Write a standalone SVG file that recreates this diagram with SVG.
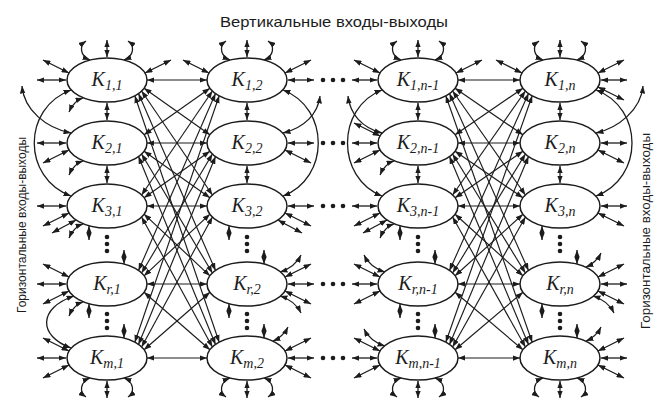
<svg xmlns="http://www.w3.org/2000/svg" width="654" height="400" viewBox="0 0 654 400">
  <defs>
    <marker id="ah" viewBox="0 0 8 6" refX="8" refY="3" markerWidth="7.5" markerHeight="5.6" markerUnits="userSpaceOnUse" orient="auto-start-reverse">
      <path d="M0,0 L8,3 L0,6 Z" fill="#1c1c1c"/>
    </marker>
    <style>
      .a{fill:none;stroke:#1c1c1c;stroke-width:1.3;marker-start:url(#ah);marker-end:url(#ah)}
      .m{fill:none;stroke:#1c1c1c;stroke-width:1.15;marker-start:url(#ah);marker-end:url(#ah)}
      .node ellipse{fill:#fff;stroke:#1c1c1c;stroke-width:1.5}
      .lbl{font-family:"Liberation Serif","Times New Roman",serif;font-style:italic;font-size:20px;fill:#1c1c1c;text-anchor:middle}
      .lbl tspan{font-size:14px}
      .cap{font-family:"Liberation Sans",Arial,sans-serif;fill:#1c1c1c;text-anchor:middle}
      .dot{fill:#1c1c1c}
    </style>
    <!-- port stubs, relative to a node centre (ellipse rx 40, ry 22) -->
    <g id="top">
      <line class="a" x1="0" y1="-23" x2="0" y2="-40"/>
      <path class="a" d="M-17,-20 C-27,-24 -28,-34 -21,-39"/>
      <path class="a" d="M17,-20 C27,-24 28,-34 21,-39"/>
    </g>
    <g id="bot">
      <line class="a" x1="0" y1="23" x2="0" y2="40"/>
      <path class="a" d="M-17,20 C-27,24 -28,34 -21,39"/>
      <path class="a" d="M17,20 C27,24 28,34 21,39"/>
    </g>
    <line id="hl" class="a" x1="-41" y1="0" x2="-70" y2="0"/>
    <line id="hl2" class="a" x1="-41" y1="0" x2="-66" y2="0"/>
    <line id="hr" class="a" x1="41" y1="0" x2="67" y2="0"/>
    <line id="ul" class="a" x1="-38" y1="-7" x2="-64" y2="-20"/>
    <line id="ur" class="a" x1="38" y1="-7" x2="64" y2="-20"/>
    <line id="dl" class="a" x1="-38" y1="7" x2="-64" y2="20"/>
    <line id="dr" class="a" x1="38" y1="7" x2="64" y2="20"/>
    <path id="dl2" class="a" d="M-31,14 C-38,18 -46,22 -55,27"/>
    <path id="dr2" class="a" d="M31,14 C38,18 46,22 55,27"/>
    <path id="cur" class="a" d="M33,-12 C43,-15 50,-21 54,-29"/>
    <path id="cul" class="a" d="M-33,-12 C-43,-15 -50,-21 -54,-29"/>
    <path id="cdr" class="a" d="M33,12 C43,15 50,21 54,29"/>
    <path id="cbl" class="a" d="M-24,18 C-30,20 -35,25 -38,32"/>
    <path id="ctr" class="a" d="M26,-17 C33,-20 38,-25 41,-31"/>
    <!-- links along one column: rows 1-2, 2-3, 3..r, r..m -->
    <g id="vcol">
      <line class="a" x1="0" y1="103" x2="0" y2="120"/>
      <line class="a" x1="0" y1="166" x2="0" y2="183"/>
      <line class="a" x1="-18" y1="226" x2="-18" y2="240"/>
      <line class="a" x1="17" y1="250" x2="17" y2="264"/>
      <line class="a" x1="-18" y1="304" x2="-18" y2="318"/>
      <line class="a" x1="17" y1="324" x2="17" y2="338"/>
      <circle class="dot" cx="0" cy="237" r="2.3"/>
      <circle class="dot" cx="0" cy="244" r="2.3"/>
      <circle class="dot" cx="0" cy="251" r="2.3"/>
      <circle class="dot" cx="0" cy="314" r="2.3"/>
      <circle class="dot" cx="0" cy="321" r="2.3"/>
      <circle class="dot" cx="0" cy="328" r="2.3"/>
    </g>
    <g id="hdots">
      <circle class="dot" cx="323" cy="0" r="2.3"/>
      <circle class="dot" cx="333" cy="0" r="2.3"/>
      <circle class="dot" cx="343" cy="0" r="2.3"/>
    </g>
  </defs>

  <rect width="654" height="400" fill="#fff"/>

  <!-- captions -->
  <text class="cap" x="334" y="27" font-size="14.5" textLength="228" lengthAdjust="spacingAndGlyphs">Вертикальные входы-выходы</text>
  <text class="cap" transform="translate(26,225) rotate(-90)" font-size="12.5" textLength="176" lengthAdjust="spacingAndGlyphs">Горизонтальные входы-выходы</text>
  <text class="cap" transform="translate(650,231) rotate(-90)" font-size="12.5" textLength="196" lengthAdjust="spacingAndGlyphs">Горизонтальные входы-выходы</text>

  <g id="connectors">
    <!-- full mesh: column 1 <-> column 2 -->
    <line class="m" x1="147" y1="80" x2="207" y2="80"/>
    <line class="m" x1="147" y1="143" x2="207" y2="143"/>
    <line class="m" x1="147" y1="206" x2="207" y2="206"/>
    <line class="m" x1="147" y1="284" x2="207" y2="284"/>
    <line class="m" x1="147" y1="358" x2="207" y2="358"/>
    <line class="m" x1="144.1" y1="88.2" x2="209.9" y2="134.8"/>
    <line class="m" x1="144.1" y1="151.2" x2="209.9" y2="197.8"/>
    <line class="m" x1="144.1" y1="214.2" x2="209.9" y2="275.8"/>
    <line class="m" x1="144.1" y1="292.2" x2="209.9" y2="349.8"/>
    <line class="m" x1="144.1" y1="134.8" x2="209.9" y2="88.2"/>
    <line class="m" x1="144.1" y1="197.8" x2="209.9" y2="151.2"/>
    <line class="m" x1="144.1" y1="275.8" x2="209.9" y2="214.2"/>
    <line class="m" x1="144.1" y1="349.8" x2="209.9" y2="292.2"/>
    <line class="m" x1="141.6" y1="91" x2="212.4" y2="195"/>
    <line class="m" x1="141.6" y1="154" x2="212.4" y2="273"/>
    <line class="m" x1="141.6" y1="217" x2="212.4" y2="347"/>
    <line class="m" x1="141.6" y1="195" x2="212.4" y2="91"/>
    <line class="m" x1="141.6" y1="273" x2="212.4" y2="154"/>
    <line class="m" x1="141.6" y1="347" x2="212.4" y2="217"/>
    <line class="m" x1="138.5" y1="93.5" x2="215.5" y2="270.5"/>
    <line class="m" x1="138.5" y1="156.5" x2="215.5" y2="344.5"/>
    <line class="m" x1="138.5" y1="270.5" x2="215.5" y2="93.5"/>
    <line class="m" x1="138.5" y1="344.5" x2="215.5" y2="156.5"/>
    <line class="m" x1="134.8" y1="95.8" x2="219.2" y2="342.2"/>
    <line class="m" x1="134.8" y1="342.2" x2="219.2" y2="95.8"/>

    <!-- full mesh: column n-1 <-> column n -->
    <line class="m" x1="458" y1="80" x2="520" y2="80"/>
    <line class="m" x1="458" y1="143" x2="520" y2="143"/>
    <line class="m" x1="458" y1="206" x2="520" y2="206"/>
    <line class="m" x1="458" y1="284" x2="520" y2="284"/>
    <line class="m" x1="458" y1="358" x2="520" y2="358"/>
    <line class="m" x1="455.1" y1="88.2" x2="522.9" y2="134.8"/>
    <line class="m" x1="455.1" y1="151.2" x2="522.9" y2="197.8"/>
    <line class="m" x1="455.1" y1="214.2" x2="522.9" y2="275.8"/>
    <line class="m" x1="455.1" y1="292.2" x2="522.9" y2="349.8"/>
    <line class="m" x1="455.1" y1="134.8" x2="522.9" y2="88.2"/>
    <line class="m" x1="455.1" y1="197.8" x2="522.9" y2="151.2"/>
    <line class="m" x1="455.1" y1="275.8" x2="522.9" y2="214.2"/>
    <line class="m" x1="455.1" y1="349.8" x2="522.9" y2="292.2"/>
    <line class="m" x1="452.6" y1="91" x2="525.4" y2="195"/>
    <line class="m" x1="452.6" y1="154" x2="525.4" y2="273"/>
    <line class="m" x1="452.6" y1="217" x2="525.4" y2="347"/>
    <line class="m" x1="452.6" y1="195" x2="525.4" y2="91"/>
    <line class="m" x1="452.6" y1="273" x2="525.4" y2="154"/>
    <line class="m" x1="452.6" y1="347" x2="525.4" y2="217"/>
    <line class="m" x1="449.5" y1="93.5" x2="528.5" y2="270.5"/>
    <line class="m" x1="449.5" y1="156.5" x2="528.5" y2="344.5"/>
    <line class="m" x1="449.5" y1="270.5" x2="528.5" y2="93.5"/>
    <line class="m" x1="449.5" y1="344.5" x2="528.5" y2="156.5"/>
    <line class="m" x1="445.8" y1="95.8" x2="532.2" y2="342.2"/>
    <line class="m" x1="445.8" y1="342.2" x2="532.2" y2="95.8"/>

    <!-- wrap-around arcs -->
    <path class="a" d="M71,90 C22,108 22,178 71,196"/>
    <path class="a" d="M22,86 C24,110 46,128 71,133"/>
    <path class="a" d="M74,296 C38,308 38,336 71,348"/>
    <path class="a" d="M283,90 C330,108 330,178 283,196"/>
    <path class="a" d="M320,96 C318,114 304,128 283,133"/>
    <path class="a" d="M382,90 C336,108 336,178 382,196"/>
    <path class="a" d="M348,96 C350,114 362,128 382,133"/>
    <path class="a" d="M596,90 C644,108 644,178 596,196"/>
    <path class="a" d="M643,86 C641,110 618,128 596,133"/>

    <!-- column links -->
    <use href="#vcol" x="107"/>
    <use href="#vcol" x="247"/>
    <use href="#vcol" x="418"/>
    <use href="#vcol" x="560"/>

    <!-- omitted columns between 2 and n-1 -->
    <use href="#hdots" y="80"/>
    <use href="#hdots" y="143"/>
    <use href="#hdots" y="206"/>
    <use href="#hdots" y="284"/>
    <use href="#hdots" y="358"/>

    <!-- column 1 ports -->
    <use href="#top" x="107" y="80"/>
    <use href="#hl" x="107" y="80"/>
    <use href="#ul" x="107" y="80"/>
    <use href="#ur" x="107" y="80"/>
    <use href="#cbl" x="107" y="80"/>
    <use href="#hl" x="107" y="143"/>
    <use href="#dl" x="107" y="143"/>
    <use href="#cbl" x="107" y="143"/>
    <use href="#hl" x="107" y="206"/>
    <use href="#dl" x="107" y="206"/>
    <use href="#dl2" x="107" y="206"/>
    <use href="#cbl" x="107" y="206"/>
    <use href="#ul" x="107" y="284"/>
    <use href="#hl" x="107" y="284"/>
    <use href="#dl" x="107" y="284"/>
    <use href="#cbl" x="107" y="284"/>
    <use href="#ul" x="107" y="358"/>
    <use href="#hl" x="107" y="358"/>
    <use href="#dl" x="107" y="358"/>
    <use href="#bot" x="107" y="358"/>

    <!-- column 2 ports -->
    <use href="#top" x="247" y="80"/>
    <use href="#ul" x="247" y="80"/>
    <use href="#ur" x="247" y="80"/>
    <use href="#hr" x="247" y="80"/>
    <use href="#hr" x="247" y="143"/>
    <use href="#dr" x="247" y="143"/>
    <use href="#hr" x="247" y="206"/>
    <use href="#dr" x="247" y="206"/>
    <use href="#dr2" x="247" y="206"/>
    <use href="#cur" x="247" y="284"/>
    <use href="#ur" x="247" y="284"/>
    <use href="#hr" x="247" y="284"/>
    <use href="#dr" x="247" y="284"/>
    <use href="#cdr" x="247" y="284"/>
    <use href="#ctr" x="247" y="358"/>
    <use href="#ur" x="247" y="358"/>
    <use href="#hr" x="247" y="358"/>
    <use href="#dr" x="247" y="358"/>
    <use href="#bot" x="247" y="358"/>

    <!-- column n-1 ports -->
    <use href="#top" x="418" y="80"/>
    <use href="#ul" x="418" y="80"/>
    <use href="#hl2" x="418" y="80"/>
    <use href="#ur" x="418" y="80"/>
    <use href="#ul" x="418" y="143"/>
    <use href="#hl2" x="418" y="143"/>
    <use href="#dl" x="418" y="143"/>
    <use href="#cbl" x="418" y="143"/>
    <use href="#hl2" x="418" y="206"/>
    <use href="#dl" x="418" y="206"/>
    <use href="#dl2" x="418" y="206"/>
    <use href="#cbl" x="418" y="206"/>
    <use href="#cul" x="418" y="284"/>
    <use href="#ul" x="418" y="284"/>
    <use href="#hl2" x="418" y="284"/>
    <use href="#dl" x="418" y="284"/>
    <use href="#cul" x="418" y="358"/>
    <use href="#ul" x="418" y="358"/>
    <use href="#hl2" x="418" y="358"/>
    <use href="#dl" x="418" y="358"/>
    <use href="#bot" x="418" y="358"/>

    <!-- column n ports -->
    <use href="#top" x="560" y="80"/>
    <use href="#ul" x="560" y="80"/>
    <use href="#ur" x="560" y="80"/>
    <use href="#hr" x="560" y="80"/>
    <use href="#dr" x="560" y="80"/>
    <use href="#hr" x="560" y="143"/>
    <use href="#dr" x="560" y="143"/>
    <use href="#hr" x="560" y="206"/>
    <use href="#dr" x="560" y="206"/>
    <use href="#ctr" x="560" y="284"/>
    <use href="#ur" x="560" y="284"/>
    <use href="#hr" x="560" y="284"/>
    <use href="#dr" x="560" y="284"/>
    <use href="#cdr" x="560" y="284"/>
    <use href="#ctr" x="560" y="358"/>
    <use href="#ur" x="560" y="358"/>
    <use href="#hr" x="560" y="358"/>
    <use href="#dr" x="560" y="358"/>
    <use href="#bot" x="560" y="358"/>
  </g>

  <!-- nodes K(i,j) -->
  <g id="n11" class="node"><ellipse cx="107" cy="80" rx="40" ry="22"/><text class="lbl" x="107" y="86">K<tspan dy="4">1,1</tspan></text></g>
  <g id="n21" class="node"><ellipse cx="107" cy="143" rx="40" ry="22"/><text class="lbl" x="107" y="149">K<tspan dy="4">2,1</tspan></text></g>
  <g id="n31" class="node"><ellipse cx="107" cy="206" rx="40" ry="22"/><text class="lbl" x="107" y="212">K<tspan dy="4">3,1</tspan></text></g>
  <g id="nr1" class="node"><ellipse cx="107" cy="284" rx="40" ry="22"/><text class="lbl" x="107" y="290">K<tspan dy="4">r,1</tspan></text></g>
  <g id="nm1" class="node"><ellipse cx="107" cy="358" rx="40" ry="22"/><text class="lbl" x="107" y="364">K<tspan dy="4">m,1</tspan></text></g>

  <g id="n12" class="node"><ellipse cx="247" cy="80" rx="40" ry="22"/><text class="lbl" x="247" y="86">K<tspan dy="4">1,2</tspan></text></g>
  <g id="n22" class="node"><ellipse cx="247" cy="143" rx="40" ry="22"/><text class="lbl" x="247" y="149">K<tspan dy="4">2,2</tspan></text></g>
  <g id="n32" class="node"><ellipse cx="247" cy="206" rx="40" ry="22"/><text class="lbl" x="247" y="212">K<tspan dy="4">3,2</tspan></text></g>
  <g id="nr2" class="node"><ellipse cx="247" cy="284" rx="40" ry="22"/><text class="lbl" x="247" y="290">K<tspan dy="4">r,2</tspan></text></g>
  <g id="nm2" class="node"><ellipse cx="247" cy="358" rx="40" ry="22"/><text class="lbl" x="247" y="364">K<tspan dy="4">m,2</tspan></text></g>

  <g id="n1n1" class="node"><ellipse cx="418" cy="80" rx="40" ry="22"/><text class="lbl" x="418" y="86">K<tspan dy="4">1,n-1</tspan></text></g>
  <g id="n2n1" class="node"><ellipse cx="418" cy="143" rx="40" ry="22"/><text class="lbl" x="418" y="149">K<tspan dy="4">2,n-1</tspan></text></g>
  <g id="n3n1" class="node"><ellipse cx="418" cy="206" rx="40" ry="22"/><text class="lbl" x="418" y="212">K<tspan dy="4">3,n-1</tspan></text></g>
  <g id="nrn1" class="node"><ellipse cx="418" cy="284" rx="40" ry="22"/><text class="lbl" x="418" y="290">K<tspan dy="4">r,n-1</tspan></text></g>
  <g id="nmn1" class="node"><ellipse cx="418" cy="358" rx="40" ry="22"/><text class="lbl" x="418" y="364">K<tspan dy="4">m,n-1</tspan></text></g>

  <g id="n1n" class="node"><ellipse cx="560" cy="80" rx="40" ry="22"/><text class="lbl" x="560" y="86">K<tspan dy="4">1,n</tspan></text></g>
  <g id="n2n" class="node"><ellipse cx="560" cy="143" rx="40" ry="22"/><text class="lbl" x="560" y="149">K<tspan dy="4">2,n</tspan></text></g>
  <g id="n3n" class="node"><ellipse cx="560" cy="206" rx="40" ry="22"/><text class="lbl" x="560" y="212">K<tspan dy="4">3,n</tspan></text></g>
  <g id="nrn" class="node"><ellipse cx="560" cy="284" rx="40" ry="22"/><text class="lbl" x="560" y="290">K<tspan dy="4">r,n</tspan></text></g>
  <g id="nmn" class="node"><ellipse cx="560" cy="358" rx="40" ry="22"/><text class="lbl" x="560" y="364">K<tspan dy="4">m,n</tspan></text></g>
</svg>
